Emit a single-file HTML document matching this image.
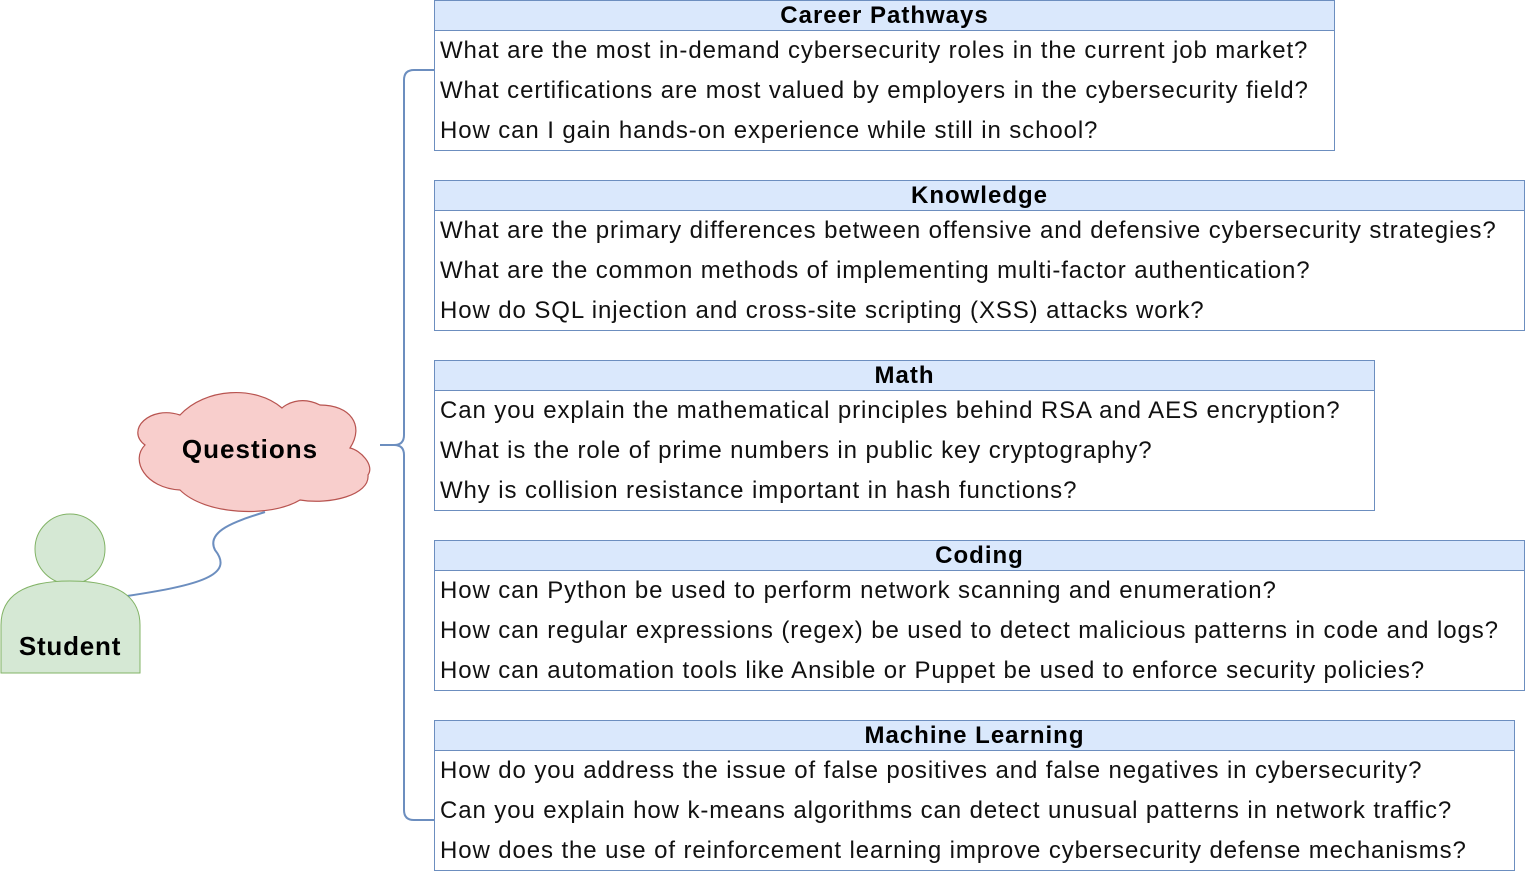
<!DOCTYPE html>
<html><head><style>
body{margin:0;width:1525px;height:872px;background:#fff;position:relative;overflow:hidden;font-family:"Liberation Sans",Arial,sans-serif;}
.b{position:absolute;left:434px;border:1px solid #6c8ebf;background:#fff;box-sizing:border-box;height:151px;}
.h{height:29px;background:#dae8fc;border-bottom:1px solid #6c8ebf;text-align:center;font-weight:bold;font-size:24px;letter-spacing:1px;line-height:30px;color:#000;overflow:hidden;}
.r{height:40px;line-height:40px;font-size:24px;letter-spacing:0.9px;padding-left:5px;white-space:nowrap;color:#111;}
</style></head><body>
<svg width="1525" height="872" style="position:absolute;left:0;top:0">
<path d="M434,70 H414 Q404,70 404,80 V435 Q404,445 394,445 H380 M394,445 Q404,445 404,455 V810 Q404,820 414,820 H434" fill="none" stroke="#6c8ebf" stroke-width="2"/>
<path d="M180,415 C150,405 125,430 145,445 C130,460 145,488 180,490 C205,515 270,518 300,500 C330,505 370,495 368,475 C375,465 360,450 350,448 C365,425 350,405 320,405 C300,395 285,405 282,408 C255,385 205,388 180,415 Z" fill="#f8cecc" stroke="#b85450" stroke-width="1.2"/>
<path d="M265,512 C240,520 205,530 215,550 C235,575 200,585 127,596" fill="none" stroke="#6c8ebf" stroke-width="2"/>
<circle cx="70" cy="549" r="35" fill="#d5e8d4" stroke="#82b366"/>
<path d="M1,673 V625 Q1,581 70,581 Q140,581 140,625 V673 Z" fill="#d5e8d4" stroke="#82b366"/>
<text x="250" y="458" text-anchor="middle" font-family="Liberation Sans,sans-serif" font-weight="bold" font-size="26" letter-spacing="1">Questions</text>
<text x="70" y="655" text-anchor="middle" font-family="Liberation Sans,sans-serif" font-weight="bold" font-size="26" letter-spacing="0.8">Student</text>
</svg>
<div class="b" style="top:0;width:901px"><div class="h">Career Pathways</div><div class="r">What are the most in-demand cybersecurity roles in the current job market?</div><div class="r">What certifications are most valued by employers in the cybersecurity field?</div><div class="r">How can I gain hands-on experience while still in school?</div></div>
<div class="b" style="top:180px;width:1091px"><div class="h">Knowledge</div><div class="r">What are the primary differences between offensive and defensive cybersecurity strategies?</div><div class="r">What are the common methods of implementing multi-factor authentication?</div><div class="r">How do SQL injection and cross-site scripting (XSS) attacks work?</div></div>
<div class="b" style="top:360px;width:941px"><div class="h">Math</div><div class="r">Can you explain the mathematical principles behind RSA and AES encryption?</div><div class="r">What is the role of prime numbers in public key cryptography?</div><div class="r">Why is collision resistance important in hash functions?</div></div>
<div class="b" style="top:540px;width:1091px"><div class="h">Coding</div><div class="r">How can Python be used to perform network scanning and enumeration?</div><div class="r">How can regular expressions (regex) be used to detect malicious patterns in code and logs?</div><div class="r">How can automation tools like Ansible or Puppet be used to enforce security policies?</div></div>
<div class="b" style="top:720px;width:1081px"><div class="h">Machine Learning</div><div class="r">How do you address the issue of false positives and false negatives in cybersecurity?</div><div class="r">Can you explain how k-means algorithms can detect unusual patterns in network traffic?</div><div class="r">How does the use of reinforcement learning improve cybersecurity defense mechanisms?</div></div>
</body></html>
